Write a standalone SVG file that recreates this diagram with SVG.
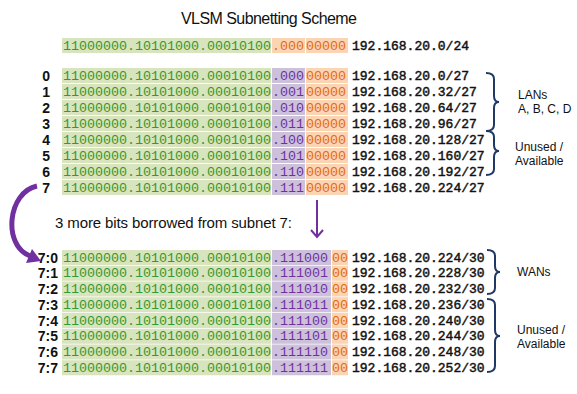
<svg xmlns="http://www.w3.org/2000/svg" width="577" height="394" viewBox="0 0 577 394">
<style>
.g{fill:#D7E4BD}.p{fill:#CCC0DA}.o{fill:#FBD4B4}
.m{font-family:"Liberation Mono",monospace;font-size:13.33px}
.gt{fill:#339933}.pt{fill:#7030A0}.ot{fill:#E46C0A}.it{fill:#111;font-size:13px;stroke:#111;stroke-width:0.45}
.lb{font-family:"Liberation Sans",Arial,sans-serif;font-weight:bold;font-size:14px;fill:#111;text-anchor:end}
.s{font-family:"Liberation Sans",Arial,sans-serif;fill:#111}
.br{fill:none;stroke:#1F3864;stroke-width:2}
</style>
<rect width="577" height="394" fill="#fff"/>
<text class="s" x="181" y="24" font-size="16" textLength="176">VLSM Subnetting  Scheme</text>
<g id="row-top">
<rect class="g" x="62" y="38" width="209" height="15"/><rect class="o" x="272" y="38" width="33" height="15"/><rect class="o" x="306" y="38" width="42" height="15"/>
<text class="m" y="49.5"><tspan class="gt" x="63">11000000.10101000.00010100</tspan><tspan class="ot" x="272">.000</tspan><tspan class="ot" x="306">00000</tspan><tspan class="it" x="352">192.168.20.0/24</tspan></text>
</g>
<g id="rows-27">
<g id="r0"><rect class="g" x="62" y="68" width="209" height="15"/><rect class="p" x="272" y="68" width="33" height="15"/><rect class="o" x="306" y="68" width="42" height="15"/><text class="lb" x="50" y="80.5">0</text><text class="m" y="79.5"><tspan class="gt" x="63">11000000.10101000.00010100</tspan><tspan class="pt" x="272">.000</tspan><tspan class="ot" x="306">00000</tspan><tspan class="it" x="352">192.168.20.0/27</tspan></text></g>
<g id="r1"><rect class="g" x="62" y="84" width="209" height="15"/><rect class="p" x="272" y="84" width="33" height="15"/><rect class="o" x="306" y="84" width="42" height="15"/><text class="lb" x="50" y="96.5">1</text><text class="m" y="95.5"><tspan class="gt" x="63">11000000.10101000.00010100</tspan><tspan class="pt" x="272">.001</tspan><tspan class="ot" x="306">00000</tspan><tspan class="it" x="352">192.168.20.32/27</tspan></text></g>
<g id="r2"><rect class="g" x="62" y="100" width="209" height="15"/><rect class="p" x="272" y="100" width="33" height="15"/><rect class="o" x="306" y="100" width="42" height="15"/><text class="lb" x="50" y="112.5">2</text><text class="m" y="111.5"><tspan class="gt" x="63">11000000.10101000.00010100</tspan><tspan class="pt" x="272">.010</tspan><tspan class="ot" x="306">00000</tspan><tspan class="it" x="352">192.168.20.64/27</tspan></text></g>
<g id="r3"><rect class="g" x="62" y="116" width="209" height="15"/><rect class="p" x="272" y="116" width="33" height="15"/><rect class="o" x="306" y="116" width="42" height="15"/><text class="lb" x="50" y="128.5">3</text><text class="m" y="127.5"><tspan class="gt" x="63">11000000.10101000.00010100</tspan><tspan class="pt" x="272">.011</tspan><tspan class="ot" x="306">00000</tspan><tspan class="it" x="352">192.168.20.96/27</tspan></text></g>
<g id="r4"><rect class="g" x="62" y="132" width="209" height="15"/><rect class="p" x="272" y="132" width="33" height="15"/><rect class="o" x="306" y="132" width="42" height="15"/><text class="lb" x="50" y="144.5">4</text><text class="m" y="143.5"><tspan class="gt" x="63">11000000.10101000.00010100</tspan><tspan class="pt" x="272">.100</tspan><tspan class="ot" x="306">00000</tspan><tspan class="it" x="352">192.168.20.128/27</tspan></text></g>
<g id="r5"><rect class="g" x="62" y="148" width="209" height="15"/><rect class="p" x="272" y="148" width="33" height="15"/><rect class="o" x="306" y="148" width="42" height="15"/><text class="lb" x="50" y="160.5">5</text><text class="m" y="159.5"><tspan class="gt" x="63">11000000.10101000.00010100</tspan><tspan class="pt" x="272">.101</tspan><tspan class="ot" x="306">00000</tspan><tspan class="it" x="352">192.168.20.160/27</tspan></text></g>
<g id="r6"><rect class="g" x="62" y="164" width="209" height="15"/><rect class="p" x="272" y="164" width="33" height="15"/><rect class="o" x="306" y="164" width="42" height="15"/><text class="lb" x="50" y="176.5">6</text><text class="m" y="175.5"><tspan class="gt" x="63">11000000.10101000.00010100</tspan><tspan class="pt" x="272">.110</tspan><tspan class="ot" x="306">00000</tspan><tspan class="it" x="352">192.168.20.192/27</tspan></text></g>
<g id="r7"><rect class="g" x="62" y="180" width="209" height="15"/><rect class="p" x="272" y="180" width="33" height="15"/><rect class="o" x="306" y="180" width="42" height="15"/><text class="lb" x="50" y="192.5">7</text><text class="m" y="191.5"><tspan class="gt" x="63">11000000.10101000.00010100</tspan><tspan class="pt" x="272">.111</tspan><tspan class="ot" x="306">00000</tspan><tspan class="it" x="352">192.168.20.224/27</tspan></text></g>
</g>
<text class="s" x="55" y="228" font-size="15" textLength="237">3 more bits borrowed  from subnet  7:</text>
<g id="rows-30">
<g id="s0"><rect class="g" x="62" y="250" width="209" height="15"/><rect class="p" x="272" y="250" width="59" height="15"/><rect class="o" x="332" y="250" width="16" height="15"/><text class="lb" x="58" y="262.5">7:0</text><text class="m" y="261.5"><tspan class="gt" x="63">11000000.10101000.00010100</tspan><tspan class="pt" x="272">.111000</tspan><tspan class="ot" x="332">00</tspan><tspan class="it" x="352">192.168.20.224/30</tspan></text></g>
<g id="s1"><rect class="g" x="62" y="265.75" width="209" height="15"/><rect class="p" x="272" y="265.75" width="59" height="15"/><rect class="o" x="332" y="265.75" width="16" height="15"/><text class="lb" x="58" y="278.25">7:1</text><text class="m" y="277.25"><tspan class="gt" x="63">11000000.10101000.00010100</tspan><tspan class="pt" x="272">.111001</tspan><tspan class="ot" x="332">00</tspan><tspan class="it" x="352">192.168.20.228/30</tspan></text></g>
<g id="s2"><rect class="g" x="62" y="281.5" width="209" height="15"/><rect class="p" x="272" y="281.5" width="59" height="15"/><rect class="o" x="332" y="281.5" width="16" height="15"/><text class="lb" x="58" y="294">7:2</text><text class="m" y="293"><tspan class="gt" x="63">11000000.10101000.00010100</tspan><tspan class="pt" x="272">.111010</tspan><tspan class="ot" x="332">00</tspan><tspan class="it" x="352">192.168.20.232/30</tspan></text></g>
<g id="s3"><rect class="g" x="62" y="297.25" width="209" height="15"/><rect class="p" x="272" y="297.25" width="59" height="15"/><rect class="o" x="332" y="297.25" width="16" height="15"/><text class="lb" x="58" y="309.75">7:3</text><text class="m" y="308.75"><tspan class="gt" x="63">11000000.10101000.00010100</tspan><tspan class="pt" x="272">.111011</tspan><tspan class="ot" x="332">00</tspan><tspan class="it" x="352">192.168.20.236/30</tspan></text></g>
<g id="s4"><rect class="g" x="62" y="313" width="209" height="15"/><rect class="p" x="272" y="313" width="59" height="15"/><rect class="o" x="332" y="313" width="16" height="15"/><text class="lb" x="58" y="325.5">7:4</text><text class="m" y="324.5"><tspan class="gt" x="63">11000000.10101000.00010100</tspan><tspan class="pt" x="272">.111100</tspan><tspan class="ot" x="332">00</tspan><tspan class="it" x="352">192.168.20.240/30</tspan></text></g>
<g id="s5"><rect class="g" x="62" y="328.75" width="209" height="15"/><rect class="p" x="272" y="328.75" width="59" height="15"/><rect class="o" x="332" y="328.75" width="16" height="15"/><text class="lb" x="58" y="341.25">7:5</text><text class="m" y="340.25"><tspan class="gt" x="63">11000000.10101000.00010100</tspan><tspan class="pt" x="272">.111101</tspan><tspan class="ot" x="332">00</tspan><tspan class="it" x="352">192.168.20.244/30</tspan></text></g>
<g id="s6"><rect class="g" x="62" y="344.5" width="209" height="15"/><rect class="p" x="272" y="344.5" width="59" height="15"/><rect class="o" x="332" y="344.5" width="16" height="15"/><text class="lb" x="58" y="357">7:6</text><text class="m" y="356"><tspan class="gt" x="63">11000000.10101000.00010100</tspan><tspan class="pt" x="272">.111110</tspan><tspan class="ot" x="332">00</tspan><tspan class="it" x="352">192.168.20.248/30</tspan></text></g>
<g id="s7"><rect class="g" x="62" y="360.25" width="209" height="15"/><rect class="p" x="272" y="360.25" width="59" height="15"/><rect class="o" x="332" y="360.25" width="16" height="15"/><text class="lb" x="58" y="372.75">7:7</text><text class="m" y="371.75"><tspan class="gt" x="63">11000000.10101000.00010100</tspan><tspan class="pt" x="272">.111111</tspan><tspan class="ot" x="332">00</tspan><tspan class="it" x="352">192.168.20.252/30</tspan></text></g>
</g>
<g id="brackets">
<path class="br" d="M486,73 Q494,73 494,79 L494,96 Q494,102 499,102 Q494,102 494,108 L494,125 Q494,131 486,131"/>
<path class="br" d="M486,131 Q494,131 494,137 L494,145 Q494,151 499,151 Q494,151 494,157 L494,169 Q494,175 486,175"/>
<path class="br" d="M487,250 Q495,250 495,256 L495,266 Q495,272 500,272 Q495,272 495,278 L495,288 Q495,294 487,294"/>
<path class="br" d="M487,299 Q495,299 495,305 L495,330 Q495,336 500,336 Q495,336 495,342 L495,366 Q495,372 487,372"/>
</g>
<g id="labels" class="s" font-size="12">
<text x="518" y="99">LANs</text>
<text x="518" y="113">A, B, C, D</text>
<text x="515" y="151">Unused /</text>
<text x="515" y="165">Available</text>
<text x="517" y="276">WANs</text>
<text x="517" y="334">Unused /</text>
<text x="517" y="348">Available</text>
</g>
<g id="connectors">
<path d="M37,186 C8,192 2,245 30,256" fill="none" stroke="#7030A0" stroke-width="5"/>
<polygon points="41,261 26,263 32,249" fill="#7030A0"/>
<line x1="317" y1="200" x2="317" y2="237" stroke="#7030A0" stroke-width="2"/>
<polyline points="311,230 317,237 323,230" fill="none" stroke="#7030A0" stroke-width="2"/>
</g>
</svg>
